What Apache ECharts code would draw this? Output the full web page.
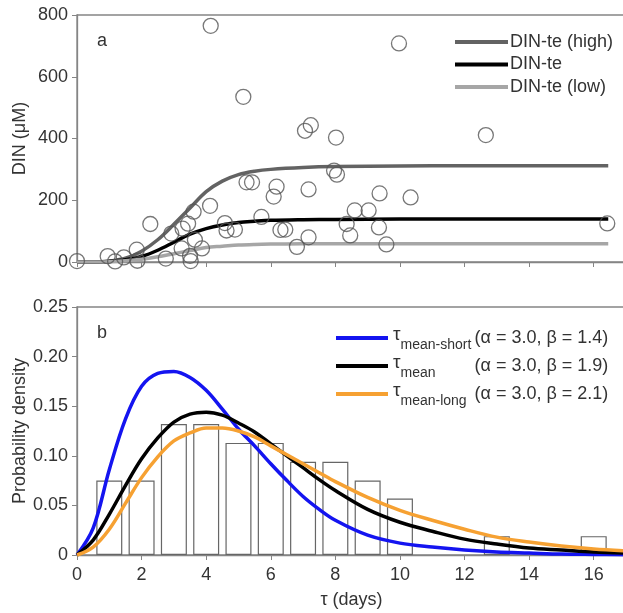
<!DOCTYPE html>
<html>
<head>
<meta charset="utf-8">
<script src="https://cdn.jsdelivr.net/npm/echarts@6/dist/echarts.min.js"></script>
<style>
  html, body { margin: 0; padding: 0; background: #fff; }
  #main { width: 623px; height: 613px; }
</style>
</head>
<body>
<div id="main"></div>
<script>
// panel a: observed DIN vs transit time
var dinDays = [0.0, 0.95, 1.18, 1.45, 1.85, 1.87, 2.27, 2.75, 2.92, 3.27, 3.44, 3.24, 3.5, 3.52, 3.61, 3.65, 3.87, 4.12, 4.14, 4.58, 4.63, 4.89, 5.15, 5.25, 5.42, 5.71, 6.09, 6.18, 6.3, 6.45, 6.81, 7.06, 7.24, 7.17, 7.17, 8.02, 7.96, 8.05, 8.35, 8.46, 8.6, 9.03, 9.37, 9.35, 9.58, 10.33, 9.97, 12.66, 16.42]
var dinValues = [3, 19, 2, 15, 40, 4, 123, 11, 92, 108, 124, 44, 20, 3, 163, 72, 44, 182, 765, 126, 102, 105, 535, 258, 258, 146, 212, 244, 104, 105, 49, 425, 443, 235, 80, 403, 296, 283, 123, 86, 167, 167, 222, 112, 57, 209, 708, 411, 125]

var curveDays = [0, 0.5, 1, 1.5, 2, 2.5, 3, 3.5, 4, 4.5, 5, 5.5, 6, 7, 8, 10, 12, 16.45]
var dinHigh = [0, 0, 3, 12, 35, 72, 122, 175, 228, 262, 283, 294, 300, 306, 309, 311, 312, 312]
var dinMean = [0, 0, 2, 7, 18, 38, 64, 90, 108, 120, 128, 132, 135, 137, 138, 139, 139, 139]
var dinLow = [0, 0, 1, 4, 9, 17, 27, 37, 47, 51, 55, 57, 58, 59, 59, 59, 59, 59]

// panel b: histogram of tau and gamma fits
var histDays = [1, 2, 3, 4, 5, 6, 7, 8, 9, 10, 13, 16]
var histDensity = [0.075, 0.075, 0.132, 0.132, 0.113, 0.113, 0.094, 0.094, 0.075, 0.057, 0.019, 0.019]

var pdfDays = [0, 0.5, 1, 1.5, 2, 2.5, 3, 3.5, 4, 4.5, 5, 5.5, 6, 6.5, 7, 7.5, 8, 9, 10, 11, 12, 13, 14, 15, 16, 17]
var pdfShort = [0, 0.027, 0.086, 0.137, 0.170, 0.183, 0.185, 0.179, 0.166, 0.147, 0.127, 0.110, 0.092, 0.075, 0.059, 0.046, 0.035, 0.020, 0.012, 0.008, 0.005, 0.003, 0.002, 0.001, 0.0006, 0.0003]
var pdfMean = [0, 0.015, 0.041, 0.070, 0.097, 0.118, 0.134, 0.142, 0.144, 0.141, 0.133, 0.124, 0.112, 0.100, 0.088, 0.076, 0.065, 0.046, 0.033, 0.024, 0.016, 0.011, 0.007, 0.005, 0.003, 0.002]
var pdfLong = [0, 0.008, 0.026, 0.052, 0.078, 0.099, 0.115, 0.123, 0.128, 0.128, 0.125, 0.119, 0.110, 0.101, 0.092, 0.083, 0.074, 0.058, 0.045, 0.035, 0.026, 0.018, 0.013, 0.009, 0.006, 0.004]

var pdfNames = ['short', 'mean', 'long']
var pdfLabels = {
  short: '{t|τ}{s|mean-short}{p|(α = 3.0, β = 1.4)}',
  mean: '{t|τ}{s|mean}{p|(α = 3.0, β = 1.9)}',
  long: '{t|τ}{s|mean-long}{p|(α = 3.0, β = 2.1)}'
}

function pairs (xs, ys) {
  return xs.map(function (x, i) { return [x, ys[i]] })
}

var font = 'Liberation Sans, Arial, sans-serif'
var axisGray = '#858585'
var textGray = '#333'
var fs = 18

function xAxisFor (grid, showLabel) {
  return {
    type: 'value', gridIndex: grid, min: 0, max: 17, interval: 2,
    name: showLabel ? 'τ (days)' : '',
    nameLocation: 'middle', nameGap: 36, nameMoveOverlap: false,
    nameTextStyle: { fontSize: fs, color: textGray, fontFamily: font },
    axisLine: { lineStyle: { color: axisGray, width: 1.3 } },
    axisTick: { show: true, inside: false, length: 5, lineStyle: { color: axisGray } },
    axisLabel: { show: showLabel, fontSize: fs, color: textGray, fontFamily: font, margin: 11, showMaxLabel: false },
    splitLine: { show: false }
  }
}

function yAxisFor (grid, max, interval, name, fmt) {
  return {
    type: 'value', gridIndex: grid, min: 0, max: max, interval: interval,
    name: name, nameLocation: 'middle', nameGap: 48, nameMoveOverlap: false,
    nameTextStyle: { fontSize: fs, color: textGray, fontFamily: font },
    axisLine: { show: true, lineStyle: { color: axisGray, width: 1.3 } },
    axisTick: { show: true, inside: false, length: 5, lineStyle: { color: axisGray } },
    axisLabel: { fontSize: fs, color: textGray, fontFamily: font, margin: 9, formatter: fmt },
    splitLine: { show: false }
  }
}

function curve (name, axis, xs, ys, color, z) {
  return {
    name: name, type: 'line', xAxisIndex: axis, yAxisIndex: axis,
    data: pairs(xs, ys), smooth: 0.35, showSymbol: false, z: z,
    itemStyle: { color: color }, lineStyle: { color: color, width: 3.5 }
  }
}

var chart = echarts.init(document.getElementById('main'))
var option = {
  backgroundColor: '#fff',
  animation: false,
  title: [
    { text: 'a', left: 92, top: 27, textStyle: { fontSize: fs, fontWeight: 'normal', color: textGray, fontFamily: font } },
    { text: 'b', left: 92, top: 319, textStyle: { fontSize: fs, fontWeight: 'normal', color: textGray, fontFamily: font } }
  ],
  grid: [
    { left: 77, right: -3, top: 15, height: 247, show: true, borderColor: axisGray, borderWidth: 1.3, outerBoundsMode: 'none', containLabel: false },
    { left: 77, right: -3, top: 307, height: 248, show: true, borderColor: axisGray, borderWidth: 1.3, outerBoundsMode: 'none', containLabel: false }
  ],
  legend: [
    {
      data: ['DIN-te (high)', 'DIN-te', 'DIN-te (low)'],
      orient: 'vertical', left: 450, top: 26,
      icon: 'rect', itemWidth: 53, itemHeight: 4, itemGap: 0.5,
      textStyle: { fontSize: fs, color: textGray, fontFamily: font, lineHeight: 22, padding: [0, 0, 0, -3] }
    },
    {
      data: pdfNames,
      orient: 'vertical', left: 331, top: 319,
      icon: 'rect', itemWidth: 52, itemHeight: 4, itemGap: 0,
      formatter: function (name) { return pdfLabels[name] },
      textStyle: {
        fontFamily: font, color: textGray,
        rich: {
          t: { fontSize: 19, lineHeight: 32, padding: [0, 0, 6, 0], fontFamily: font, color: textGray },
          s: { fontSize: 14, lineHeight: 32, padding: [14, 0, 0, 0], width: 74, fontFamily: font, color: textGray },
          p: { fontSize: fs, lineHeight: 32, fontFamily: font, color: textGray }
        }
      }
    }
  ],
  xAxis: [xAxisFor(0, false), xAxisFor(1, true)],
  yAxis: [
    yAxisFor(0, 800, 200, 'DIN (μM)'),
    yAxisFor(1, 0.25, 0.05, 'Probability density', function (v) { return v === 0 ? '0' : v.toFixed(2) })
  ],
  series: [
    curve('DIN-te (high)', 0, curveDays, dinHigh, '#636363', 2),
    curve('DIN-te', 0, curveDays, dinMean, '#000', 2),
    curve('DIN-te (low)', 0, curveDays, dinLow, '#a6a6a6', 2),
    {
      name: 'DIN', type: 'scatter', xAxisIndex: 0, yAxisIndex: 0,
      data: pairs(dinDays, dinValues), symbol: 'circle', symbolSize: 15, z: 5,
      itemStyle: { color: 'rgba(255,255,255,0)', borderColor: '#555', borderWidth: 1.3 }
    },
    {
      name: 'hist', type: 'bar', xAxisIndex: 1, yAxisIndex: 1,
      data: pairs(histDays, histDensity), barWidth: 26, z: 1,
      itemStyle: { color: '#fff', borderColor: '#666', borderWidth: 1.2 }
    },
    curve('short', 1, pdfDays, pdfShort, '#1414f0', 3),
    curve('mean', 1, pdfDays, pdfMean, '#000', 3),
    curve('long', 1, pdfDays, pdfLong, '#f6a132', 3)
  ]
}
chart.setOption(option)
window.addEventListener('resize', () => chart.resize())
</script>
</body>
</html>
